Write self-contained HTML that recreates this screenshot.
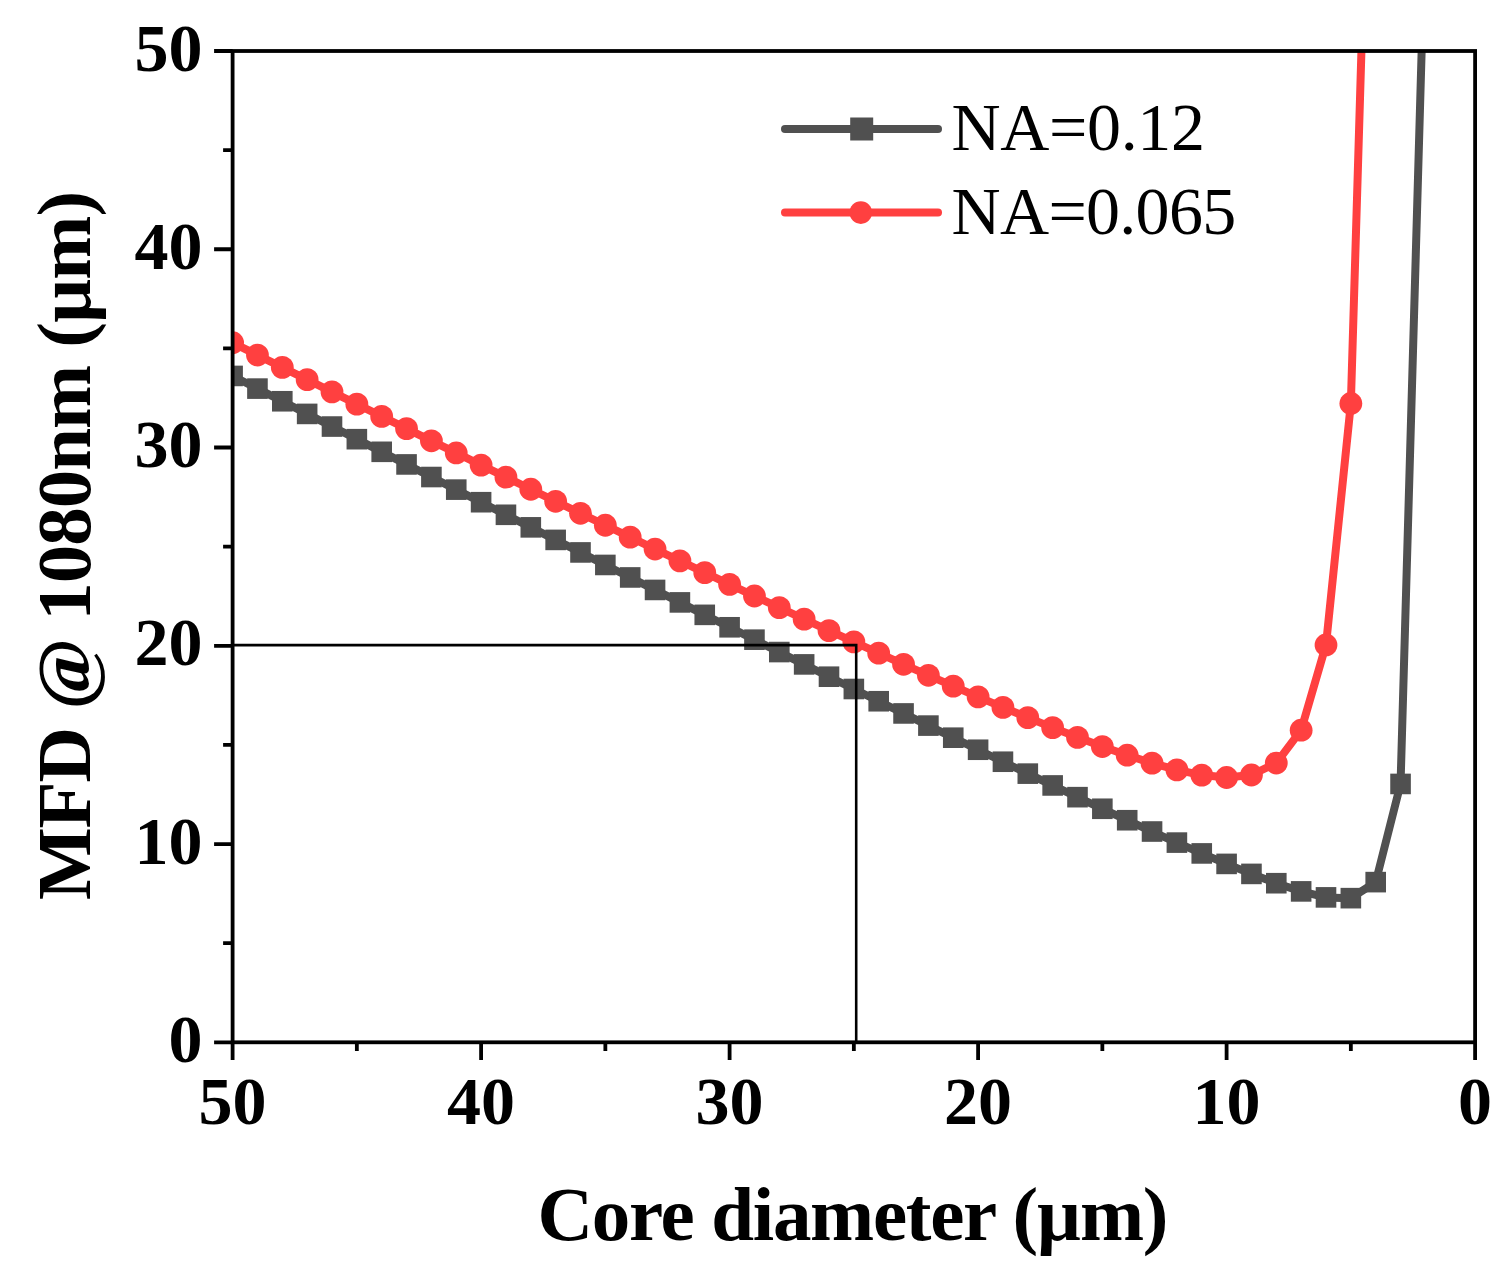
<!DOCTYPE html>
<html><head><meta charset="utf-8"><title>MFD vs core diameter</title><style>html,body{margin:0;padding:0;background:#fff;overflow:hidden;}svg{display:block;filter:blur(0.5px);}</style></head><body>
<svg width="1512" height="1283" viewBox="0 0 1512 1283">
<rect width="1512" height="1283" fill="#fff"/>
<defs><clipPath id="c"><rect x="232.6" y="51.0" width="1242.50" height="991.30"/></clipPath></defs>
<g clip-path="url(#c)">
<path d="M232.60,375.94 L257.45,388.61 L282.30,401.26 L307.15,413.91 L332.00,426.55 L356.85,439.19 L381.70,451.81 L406.55,464.43 L431.40,477.03 L456.25,489.63 L481.10,502.21 L505.95,514.79 L530.80,527.35 L555.65,539.90 L580.50,552.43 L605.35,564.95 L630.20,577.45 L655.05,589.94 L679.90,602.40 L704.75,614.85 L729.60,627.28 L754.45,639.68 L779.30,652.05 L804.15,664.40 L829.00,676.71 L853.85,689.00 L878.70,701.24 L903.55,713.44 L928.40,725.60 L953.25,737.70 L978.10,749.75 L1002.95,761.73 L1027.80,773.63 L1052.65,785.45 L1077.50,797.17 L1102.35,808.77 L1127.20,820.23 L1152.05,831.52 L1176.90,842.60 L1201.75,853.42 L1226.60,863.90 L1251.45,873.90 L1276.30,883.21 L1301.15,891.39 L1326.00,897.38 L1350.85,898.16 L1375.70,882.12 L1400.55,783.94 L1425.40,-79.54" fill="none" stroke="#505050" stroke-width="8.0" stroke-linejoin="round"/>
<g fill="#505050"><rect x="222.30" y="365.64" width="20.6" height="20.6"/><rect x="247.15" y="378.31" width="20.6" height="20.6"/><rect x="272.00" y="390.96" width="20.6" height="20.6"/><rect x="296.85" y="403.61" width="20.6" height="20.6"/><rect x="321.70" y="416.25" width="20.6" height="20.6"/><rect x="346.55" y="428.89" width="20.6" height="20.6"/><rect x="371.40" y="441.51" width="20.6" height="20.6"/><rect x="396.25" y="454.13" width="20.6" height="20.6"/><rect x="421.10" y="466.73" width="20.6" height="20.6"/><rect x="445.95" y="479.33" width="20.6" height="20.6"/><rect x="470.80" y="491.91" width="20.6" height="20.6"/><rect x="495.65" y="504.49" width="20.6" height="20.6"/><rect x="520.50" y="517.05" width="20.6" height="20.6"/><rect x="545.35" y="529.60" width="20.6" height="20.6"/><rect x="570.20" y="542.13" width="20.6" height="20.6"/><rect x="595.05" y="554.65" width="20.6" height="20.6"/><rect x="619.90" y="567.15" width="20.6" height="20.6"/><rect x="644.75" y="579.64" width="20.6" height="20.6"/><rect x="669.60" y="592.10" width="20.6" height="20.6"/><rect x="694.45" y="604.55" width="20.6" height="20.6"/><rect x="719.30" y="616.98" width="20.6" height="20.6"/><rect x="744.15" y="629.38" width="20.6" height="20.6"/><rect x="769.00" y="641.75" width="20.6" height="20.6"/><rect x="793.85" y="654.10" width="20.6" height="20.6"/><rect x="818.70" y="666.41" width="20.6" height="20.6"/><rect x="843.55" y="678.70" width="20.6" height="20.6"/><rect x="868.40" y="690.94" width="20.6" height="20.6"/><rect x="893.25" y="703.14" width="20.6" height="20.6"/><rect x="918.10" y="715.30" width="20.6" height="20.6"/><rect x="942.95" y="727.40" width="20.6" height="20.6"/><rect x="967.80" y="739.45" width="20.6" height="20.6"/><rect x="992.65" y="751.43" width="20.6" height="20.6"/><rect x="1017.50" y="763.33" width="20.6" height="20.6"/><rect x="1042.35" y="775.15" width="20.6" height="20.6"/><rect x="1067.20" y="786.87" width="20.6" height="20.6"/><rect x="1092.05" y="798.47" width="20.6" height="20.6"/><rect x="1116.90" y="809.93" width="20.6" height="20.6"/><rect x="1141.75" y="821.22" width="20.6" height="20.6"/><rect x="1166.60" y="832.30" width="20.6" height="20.6"/><rect x="1191.45" y="843.12" width="20.6" height="20.6"/><rect x="1216.30" y="853.60" width="20.6" height="20.6"/><rect x="1241.15" y="863.60" width="20.6" height="20.6"/><rect x="1266.00" y="872.91" width="20.6" height="20.6"/><rect x="1290.85" y="881.09" width="20.6" height="20.6"/><rect x="1315.70" y="887.08" width="20.6" height="20.6"/><rect x="1340.55" y="887.86" width="20.6" height="20.6"/><rect x="1365.40" y="871.82" width="20.6" height="20.6"/><rect x="1390.25" y="773.64" width="20.6" height="20.6"/><rect x="1415.10" y="-89.84" width="20.6" height="20.6"/></g>
<path d="M232.60,342.74 L257.45,355.06 L282.30,367.37 L307.15,379.66 L332.00,391.93 L356.85,404.18 L381.70,416.41 L406.55,428.62 L431.40,440.80 L456.25,452.95 L481.10,465.08 L505.95,477.18 L530.80,489.25 L555.65,501.28 L580.50,513.28 L605.35,525.24 L630.20,537.16 L655.05,549.04 L679.90,560.87 L704.75,572.64 L729.60,584.36 L754.45,596.02 L779.30,607.61 L804.15,619.13 L829.00,630.57 L853.85,641.92 L878.70,653.17 L903.55,664.30 L928.40,675.31 L953.25,686.17 L978.10,696.87 L1002.95,707.38 L1027.80,717.65 L1052.65,727.65 L1077.50,737.32 L1102.35,746.55 L1127.20,755.22 L1152.05,763.13 L1176.90,769.93 L1201.75,775.07 L1226.60,777.48 L1251.45,775.02 L1276.30,763.05 L1301.15,730.20 L1326.00,644.94 L1350.85,403.52 L1375.70,-424.40" fill="none" stroke="#FF4040" stroke-width="8.0" stroke-linejoin="round"/>
<g fill="#FF4040"><circle cx="232.60" cy="342.74" r="11.4"/><circle cx="257.45" cy="355.06" r="11.4"/><circle cx="282.30" cy="367.37" r="11.4"/><circle cx="307.15" cy="379.66" r="11.4"/><circle cx="332.00" cy="391.93" r="11.4"/><circle cx="356.85" cy="404.18" r="11.4"/><circle cx="381.70" cy="416.41" r="11.4"/><circle cx="406.55" cy="428.62" r="11.4"/><circle cx="431.40" cy="440.80" r="11.4"/><circle cx="456.25" cy="452.95" r="11.4"/><circle cx="481.10" cy="465.08" r="11.4"/><circle cx="505.95" cy="477.18" r="11.4"/><circle cx="530.80" cy="489.25" r="11.4"/><circle cx="555.65" cy="501.28" r="11.4"/><circle cx="580.50" cy="513.28" r="11.4"/><circle cx="605.35" cy="525.24" r="11.4"/><circle cx="630.20" cy="537.16" r="11.4"/><circle cx="655.05" cy="549.04" r="11.4"/><circle cx="679.90" cy="560.87" r="11.4"/><circle cx="704.75" cy="572.64" r="11.4"/><circle cx="729.60" cy="584.36" r="11.4"/><circle cx="754.45" cy="596.02" r="11.4"/><circle cx="779.30" cy="607.61" r="11.4"/><circle cx="804.15" cy="619.13" r="11.4"/><circle cx="829.00" cy="630.57" r="11.4"/><circle cx="853.85" cy="641.92" r="11.4"/><circle cx="878.70" cy="653.17" r="11.4"/><circle cx="903.55" cy="664.30" r="11.4"/><circle cx="928.40" cy="675.31" r="11.4"/><circle cx="953.25" cy="686.17" r="11.4"/><circle cx="978.10" cy="696.87" r="11.4"/><circle cx="1002.95" cy="707.38" r="11.4"/><circle cx="1027.80" cy="717.65" r="11.4"/><circle cx="1052.65" cy="727.65" r="11.4"/><circle cx="1077.50" cy="737.32" r="11.4"/><circle cx="1102.35" cy="746.55" r="11.4"/><circle cx="1127.20" cy="755.22" r="11.4"/><circle cx="1152.05" cy="763.13" r="11.4"/><circle cx="1176.90" cy="769.93" r="11.4"/><circle cx="1201.75" cy="775.07" r="11.4"/><circle cx="1226.60" cy="777.48" r="11.4"/><circle cx="1251.45" cy="775.02" r="11.4"/><circle cx="1276.30" cy="763.05" r="11.4"/><circle cx="1301.15" cy="730.20" r="11.4"/><circle cx="1326.00" cy="644.94" r="11.4"/><circle cx="1350.85" cy="403.52" r="11.4"/><circle cx="1375.70" cy="-424.40" r="11.4"/></g>
<path d="M232.6,645.1 H856.2 V1042.3" fill="none" stroke="#000" stroke-width="2.6"/>
</g>
<rect x="232.6" y="51.0" width="1242.50" height="991.30" fill="none" stroke="#000" stroke-width="3.8"/>
<path d="M214.10,1042.30 H232.6 M1475.10,1042.3 V1059.90 M214.10,844.04 H232.6 M1226.60,1042.3 V1059.90 M214.10,645.78 H232.6 M978.10,1042.3 V1059.90 M214.10,447.52 H232.6 M729.60,1042.3 V1059.90 M214.10,249.26 H232.6 M481.10,1042.3 V1059.90 M214.10,51.00 H232.6 M232.60,1042.3 V1059.90 M223.10,943.17 H232.6 M1350.85,1042.3 V1050.90 M223.10,744.91 H232.6 M1102.35,1042.3 V1050.90 M223.10,546.65 H232.6 M853.85,1042.3 V1050.90 M223.10,348.39 H232.6 M605.35,1042.3 V1050.90 M223.10,150.13 H232.6 M356.85,1042.3 V1050.90" stroke="#000" stroke-width="3.8" fill="none"/>
<g font-family="'Liberation Serif', 'Times New Roman', serif" font-weight="bold" font-size="68" fill="#000">
<text transform="translate(202.4,1061.87) scale(1.0,1)" text-anchor="end">0</text>
<text transform="translate(202.4,863.61) scale(1.0,1)" text-anchor="end">10</text>
<text transform="translate(202.4,665.35) scale(1.0,1)" text-anchor="end">20</text>
<text transform="translate(202.4,467.09) scale(1.0,1)" text-anchor="end">30</text>
<text transform="translate(202.4,268.83) scale(1.0,1)" text-anchor="end">40</text>
<text transform="translate(202.4,70.57) scale(1.0,1)" text-anchor="end">50</text>
<text transform="translate(1475.10,1124.4) scale(1.0,1)" text-anchor="middle">0</text>
<text transform="translate(1226.60,1124.4) scale(1.0,1)" text-anchor="middle">10</text>
<text transform="translate(978.10,1124.4) scale(1.0,1)" text-anchor="middle">20</text>
<text transform="translate(729.60,1124.4) scale(1.0,1)" text-anchor="middle">30</text>
<text transform="translate(481.10,1124.4) scale(1.0,1)" text-anchor="middle">40</text>
<text transform="translate(232.60,1124.4) scale(1.0,1)" text-anchor="middle">50</text>
</g>
<g font-family="'Liberation Serif', 'Times New Roman', serif" font-weight="bold" font-size="77" fill="#000">
<text x="537.5" y="1240.3" textLength="630.9" lengthAdjust="spacing">Core diameter (µm)</text>
<text transform="translate(90.2,900.1) rotate(-90)" textLength="709.2" lengthAdjust="spacing">MFD @ 1080nm (µm)</text>
</g>
<path d="M785,129.0 H938" stroke="#505050" stroke-width="8.0" stroke-linecap="round"/>
<rect x="850.20" y="117.50" width="23.0" height="23.0" fill="#505050"/>
<path d="M785,212.6 H938" stroke="#FF4040" stroke-width="8.0" stroke-linecap="round"/>
<circle cx="860.8" cy="212.6" r="11.3" fill="#FF4040"/>
<g font-family="'Liberation Serif', 'Times New Roman', serif" font-size="68" fill="#000">
<text x="951.6" y="150.4" textLength="253.4" lengthAdjust="spacing">NA=0.12</text>
<text x="951.6" y="234.3" textLength="284.6" lengthAdjust="spacing">NA=0.065</text>
</g>
</svg></body></html>
